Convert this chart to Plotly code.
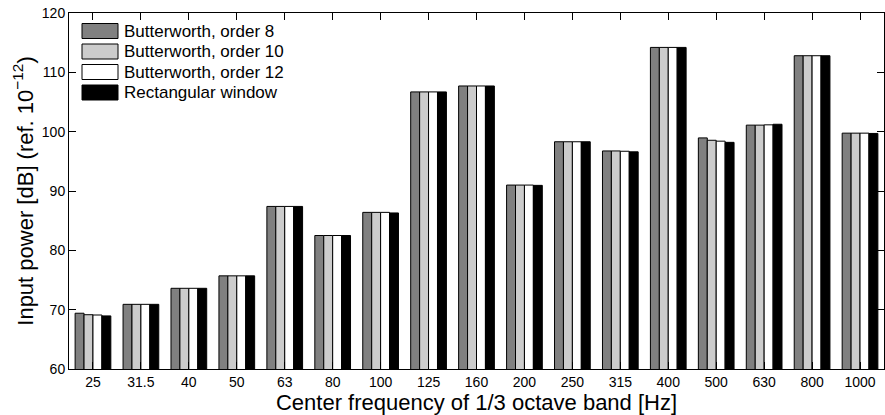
import plotly.graph_objects as go

# 1/3 octave band centre frequencies (Hz)
bands = ["25", "31.5", "40", "50", "63", "80", "100", "125", "160", "200",
         "250", "315", "400", "500", "630", "800", "1000"]

# Input power per band, dB re 1e-12 W
butter8 = [69.4, 70.9, 73.6, 75.7, 87.4, 82.5, 86.4, 106.7, 107.7, 91.0,
           98.3, 96.75, 114.2, 98.95, 101.1, 112.8, 99.75]
butter10 = [69.15, 70.9, 73.6, 75.7, 87.4, 82.5, 86.4, 106.7, 107.7, 91.0,
            98.3, 96.75, 114.2, 98.55, 101.1, 112.8, 99.75]
butter12 = [69.1, 70.9, 73.6, 75.7, 87.4, 82.5, 86.4, 106.7, 107.7, 91.0,
            98.3, 96.7, 114.2, 98.4, 101.15, 112.8, 99.75]
rectwin = [68.95, 70.9, 73.6, 75.7, 87.4, 82.5, 86.3, 106.7, 107.7, 90.95,
           98.3, 96.6, 114.2, 98.2, 101.25, 112.8, 99.7]

series_names = ["Butterworth, order 8", "Butterworth, order 10",
                "Butterworth, order 12", "Rectangular window"]
series_values = [butter8, butter10, butter12, rectwin]
series_colors = ["#808080", "#cccccc", "#ffffff", "#000000"]

FONT = "Liberation Sans, Arial, Helvetica, sans-serif"
W, H = 885, 415
ML, MR, MT, MB = 69, 1, 13, 46
PW, PH = W - ML - MR, H - MT - MB

fig = go.Figure()
for name, vals, col in zip(series_names, series_values, series_colors):
    fig.add_trace(go.Bar(
        x=bands, y=vals, name=name,
        marker=dict(color=col, line=dict(color="#000000", width=1)),
        showlegend=False,
    ))


def px_x(p):
    return (p - ML) / PW


def px_y(p):
    return (H - MB - p) / PH


# Hand-built legend box (wide swatches, no frame)
row_centres = [31, 51.5, 72, 92.5]
for name, col, cy in zip(series_names, series_colors, row_centres):
    fig.add_shape(type="rect", xref="paper", yref="paper",
                  x0=px_x(82), x1=px_x(118), y0=px_y(cy + 7.5), y1=px_y(cy - 7.5),
                  fillcolor=col, line=dict(color="#000000", width=1))
    fig.add_annotation(xref="paper", yref="paper", x=px_x(122), y=px_y(cy),
                       text=name, showarrow=False, xanchor="left", yanchor="middle",
                       font=dict(family=FONT, size=17, color="#000000"))

axis_common = dict(
    showline=True, linecolor="#000000", linewidth=1, mirror="ticks",
    ticks="inside", ticklen=7, tickcolor="#000000", tickwidth=1,
    showgrid=False, zeroline=False,
    tickfont=dict(family=FONT, size=14, color="#000000"),
)

fig.update_layout(
    width=W, height=H,
    margin=dict(l=ML, r=MR, t=MT, b=MB),
    paper_bgcolor="#ffffff", plot_bgcolor="#ffffff",
    barmode="group", bargap=0.255, bargroupgap=0,
    font=dict(family=FONT, color="#000000"),
    xaxis=dict(type="category", range=[-0.5, 16.5],
               title=dict(text="Center frequency of 1/3 octave band [Hz]",
                          font=dict(family=FONT, size=22), standoff=1),
               **axis_common),
    yaxis=dict(range=[60, 120], dtick=10, tick0=60,
               title=dict(text="Input power [dB] (ref. 10<sup>\u221212</sup>)",
                          font=dict(family=FONT, size=22), standoff=2),
               **axis_common),
)

fig.write_html("out.html")
